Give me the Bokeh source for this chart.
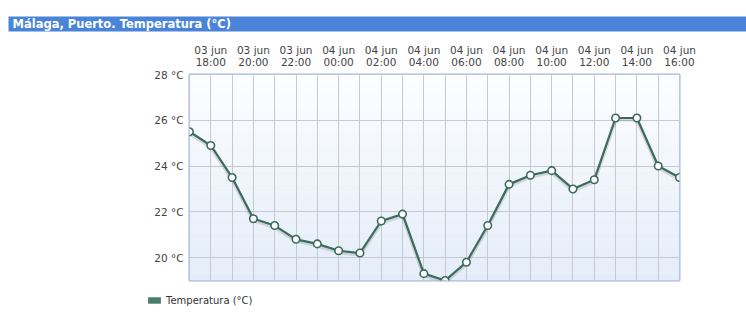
from bokeh.plotting import figure
from bokeh.models import (ColumnDataSource, FixedTicker, BoxAnnotation, Label,
                          Legend, LegendItem, LinearAxis, Range1d)
from bokeh.layouts import column
from bokeh.transform import dodge
from bokeh.embed import file_html
from bokeh.resources import INLINE

title_text = "Málaga, Puerto. Temperatura (°C)"
series_name = "Temperatura (°C)"
# hours since 03 jun 17:00
hours = list(range(24))
temps = [25.5, 24.9, 23.5, 21.7, 21.4, 20.8, 20.6, 20.3, 20.2, 21.6, 21.9, 19.3,
         19.0, 19.8, 21.4, 23.2, 23.6, 23.8, 23.0, 23.4, 26.1, 26.1, 24.0, 23.5]
tick_hours = [1, 3, 5, 7, 9, 11, 13, 15, 17, 19, 21, 23]
tick_labels = ["03 jun\n18:00", "03 jun\n20:00", "03 jun\n22:00", "04 jun\n00:00",
               "04 jun\n02:00", "04 jun\n04:00", "04 jun\n06:00", "04 jun\n08:00",
               "04 jun\n10:00", "04 jun\n12:00", "04 jun\n14:00", "04 jun\n16:00"]
y_ticks = [20, 22, 24, 26, 28]

FONT = "DejaVu Sans"
LINE = "#3d6b5c"
W = 746


def bare(h, xr, yr):
    f = figure(width=W, height=h, output_backend="svg", toolbar_location=None,
               x_range=xr, y_range=yr, x_axis_location=None, y_axis_location=None,
               min_border=0, min_border_left=0, min_border_right=0,
               min_border_top=0, min_border_bottom=0, frame_align=False)
    f.outline_line_color = None
    f.xgrid.visible = False
    f.ygrid.visible = False
    f.background_fill_color = "#ffffff"
    f.border_fill_color = "#ffffff"
    return f


# ---- title bar ----
TH = 32
t = bare(TH, Range1d(0, W), Range1d(TH, 0))
t.add_layout(BoxAnnotation(left=8, right=W, top=16, bottom=31,
                           fill_color="#4a84d8", fill_alpha=1.0, line_color=None))
t.add_layout(Label(x=12, y=23.5, text=title_text, text_font=FONT,
                   text_font_style="bold", text_font_size="11.5px",
                   text_color="#ffffff", text_baseline="middle"))

# ---- main chart ----
src = ColumnDataSource(dict(x=hours, y=temps))
MH = 258
p = figure(width=W, height=MH, output_backend="svg", toolbar_location=None,
           x_range=Range1d(0, 23), y_range=Range1d(19, 28),
           x_axis_location=None, y_axis_location="left", frame_align=False,
           min_border_left=189, min_border_right=67, min_border_top=74 - TH,
           min_border_bottom=MH - (280 - TH))
p.background_fill_color = "#ffffff"
p.border_fill_color = "#ffffff"
p.outline_line_color = "#a3b6da"
p.outline_line_width = 2

n = 30
top_c = (252, 253, 255)
bot_c = (228, 237, 249)
for i in range(n):
    f = i / (n - 1)
    c = tuple(int(round(top_c[k] + (bot_c[k] - top_c[k]) * f)) for k in range(3))
    y_top = 28 - 9 * i / n
    y_bot = 28 - 9 * (i + 1) / n
    p.add_layout(BoxAnnotation(top=y_top, bottom=y_bot - 0.01, fill_color="#%02x%02x%02x" % c,
                               fill_alpha=1.0, line_color=None, level="image"))

yax = p.yaxis[0]
yax.ticker = FixedTicker(ticks=y_ticks)
yax.major_label_overrides = {v: f"{v} °C" for v in y_ticks}
yax.axis_line_color = None
yax.major_tick_line_color = None
yax.minor_tick_line_color = None
yax.major_tick_out = 0
yax.major_tick_in = 0
yax.minor_tick_out = 0
yax.major_label_standoff = 6
yax.major_label_text_font = FONT
yax.major_label_text_font_size = "10.5px"
yax.major_label_text_color = "#444444"

xax = LinearAxis(ticker=FixedTicker(ticks=tick_hours, minor_ticks=hours))
xax.major_label_overrides = {v: l for v, l in zip(tick_hours, tick_labels)}
xax.axis_line_color = None
xax.major_tick_line_color = None
xax.minor_tick_line_color = None
xax.major_tick_out = 0
xax.major_tick_in = 0
xax.minor_tick_out = 0
xax.major_label_standoff = 7
xax.major_label_text_font = FONT
xax.major_label_text_font_size = "10.5px"
xax.major_label_text_line_height = 1.0
xax.major_label_text_color = "#444444"
p.add_layout(xax, "above")

p.xgrid.ticker = FixedTicker(ticks=tick_hours, minor_ticks=hours)
p.xgrid.grid_line_color = "#c6c8d2"
p.xgrid.minor_grid_line_color = "#c6c8d2"
p.ygrid.ticker = FixedTicker(ticks=y_ticks)
p.ygrid.grid_line_color = "#c6c8d2"

p.line(x="x", y=dodge("y", -0.07, range=p.y_range), source=src,
       line_color="#000000", line_alpha=0.12, line_width=4)
p.line(x="x", y="y", source=src, line_color=LINE, line_width=2.2)
p.scatter(x="x", y="y", source=src, marker="circle", size=7.5,
          fill_color="#ffffff", line_color=LINE, line_width=1.6)

# ---- legend ----
LH = 325 - 290
lg = bare(LH, Range1d(0, 1), Range1d(0, 1))
# zero-size quads on the series data: only used to give the legend its swatch
sw = lg.quad(left="x", right="x", top="y", bottom="y", source=src,
             fill_color="#4a7a68", line_color=None)
legend = Legend(items=[LegendItem(label=series_name, renderers=[sw], index=0)],
                location=(146, LH - 10 - 6), orientation="horizontal",
                glyph_width=16, glyph_height=8, label_text_font=FONT,
                label_text_font_size="10px", label_text_color="#333333",
                label_height=12, background_fill_alpha=0, border_line_color=None,
                padding=0, margin=0, label_standoff=4)
lg.add_layout(legend, "center")

layout = column(t, p, lg, spacing=0)
open("out.html", "w").write(file_html(layout, INLINE))
